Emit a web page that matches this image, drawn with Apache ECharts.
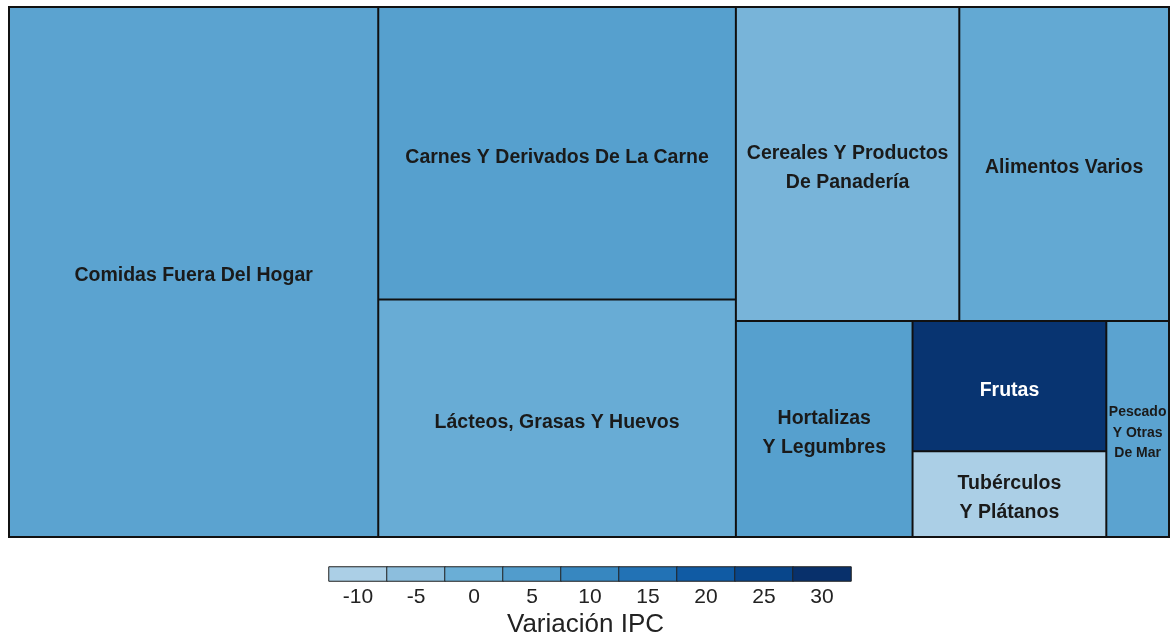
<!DOCTYPE html>
<html>
<head>
<meta charset="utf-8">
<script src="https://cdn.jsdelivr.net/npm/echarts@6/dist/echarts.min.js"></script>
<style>html,body{margin:0;padding:0;background:#fff;}#c{width:1171px;height:636px;}</style>
</head>
<body>
<div id="c"></div>
<script>
// Categories, weights (share of basket, %) and IPC variation values
const categories = ['Comidas Fuera Del Hogar', 'Carnes Y Derivados De La Carne', 'Lácteos, Grasas Y Huevos', 'Cereales Y Productos De Panadería', 'Alimentos Varios', 'Hortalizas Y Legumbres', 'Frutas', 'Tubérculos Y Plátanos', 'Pescado Y Otras De Mar'];
const labels = ['Comidas Fuera Del Hogar', 'Carnes Y Derivados De La Carne', 'Lácteos, Grasas Y Huevos', 'Cereales Y Productos\nDe Panadería', 'Alimentos Varios', 'Hortalizas\nY Legumbres', 'Frutas', 'Tubérculos\nY Plátanos', 'Pescado\nY Otras\nDe Mar'];
const weights = [31.8, 17.0, 13.8, 11.4, 10.7, 6.2, 4.1, 2.7, 2.2];
const ipc = [3.0, 4.0, 0.5, -2.0, 1.5, 4.0, 29.0, -10.0, 3.0];
// tiles that the reference stacks together in one column
const stackedGroup = ['Frutas', 'Tubérculos Y Plátanos'];
const legendTicks = ['-10', '-5', '0', '5', '10', '15', '20', '25', '30'];
const legendColors = ['#abcfe6', '#8cbedd', '#6aaed6', '#519ccc', '#3787c0', '#2272b5', '#105ba4', '#08468b', '#08306b'];

const mapping = { color: legendColors, colorMappingBy: 'value', visualDimension: 1, visualMin: -10, visualMax: 30 };

function leaf(i) {
  const small = i === 8;
  return {
    name: categories[i],
    value: [weights[i], ipc[i]],
    label: {
      color: ipc[i] > 15 ? '#ffffff' : '#1a1a1a',
      fontSize: small ? 14 : 19.5,
      lineHeight: small ? 20.5 : 29,
      overflow: 'none'
    }
  };
}

const treeData = [];
let groupNode = null;
categories.forEach((n, i) => {
  if (stackedGroup.includes(n)) {
    if (!groupNode) {
      groupNode = Object.assign({ name: 'grp', value: [0, 0], children: [], itemStyle: { borderWidth: 0, gapWidth: 0 } }, mapping);
      treeData.push(groupNode);
    }
    groupNode.children.push(leaf(i));
    groupNode.value[0] += weights[i];
  } else {
    treeData.push(leaf(i));
  }
});

const chart = echarts.init(document.getElementById('c'));
chart.setOption({
  animation: false,
  title: {
    text: 'Variación IPC',
    left: 'center',
    top: 607,
    textStyle: { fontSize: 26, fontWeight: 'normal', color: '#222', fontFamily: 'Liberation Sans, Arial' }
  },
  grid: { left: 329, top: 567, width: 522, height: 14 },
  xAxis: {
    type: 'category', data: legendTicks,
    axisLine: { show: false }, axisTick: { show: false },
    axisLabel: { fontSize: 21, color: '#222', margin: 6, fontFamily: 'Liberation Sans, Arial' }
  },
  yAxis: { type: 'category', data: [''], show: false },
  series: [
    {
      type: 'treemap',
      left: 8, top: 6, width: 1162, height: 532,
      roam: false, nodeClick: false,
      squareRatio: 1,
      sort: false,
      breadcrumb: { show: false },
      visualDimension: 1, visualMin: -10, visualMax: 30, colorMappingBy: 'value', color: legendColors,
      levels: [
        Object.assign({ itemStyle: { borderColor: '#111', borderWidth: 1, gapWidth: 0 } }, mapping),
        { itemStyle: { borderColor: '#111', borderWidth: 1, gapWidth: 0 } },
        { itemStyle: { borderColor: '#111', borderWidth: 1, gapWidth: 0 } }
      ],
      itemStyle: { borderColor: '#111', borderWidth: 1, gapWidth: 0 },
      label: {
        show: true, position: 'inside', align: 'center', verticalAlign: 'middle',
        offset: [0, 4],
        fontWeight: 'bold', fontFamily: 'Liberation Sans, Arial', overflow: 'none',
        formatter: p => labels[categories.indexOf(p.name)]
      },
      upperLabel: { show: false },
      data: treeData
    },
    {
      type: 'heatmap',
      data: legendTicks.map((t, i) => ({ value: [i, 0, Number(t)], itemStyle: { color: legendColors[i], borderColor: '#222', borderWidth: 1 } })),
      label: { show: false }
    }
  ]
});
</script>
</body>
</html>
